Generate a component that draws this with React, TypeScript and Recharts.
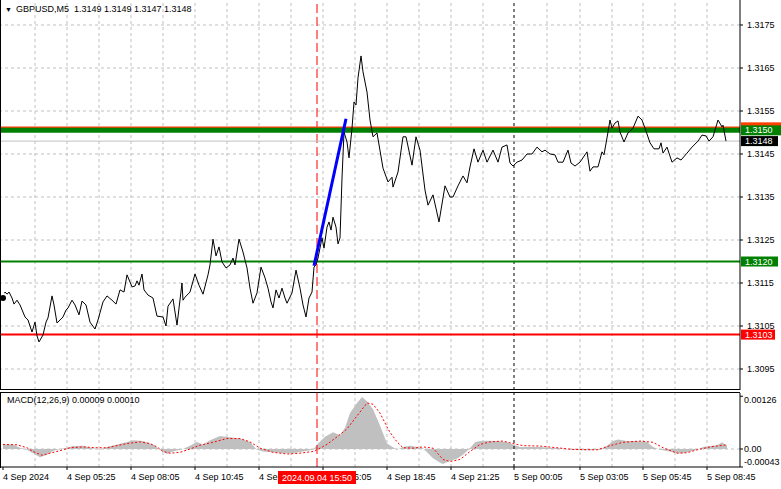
import React from "react";
import {
  ComposedChart,
  LineChart,
  Line,
  Area,
  XAxis,
  YAxis,
  ReferenceLine,
} from "recharts";

const FONT = "'Liberation Sans', Arial, sans-serif";

// position of each close, counted in 5-minute bars from the left edge of the chart
const priceBars = [
  1.5, 2.5, 3.5, 4.5, 6, 7, 8.5, 10, 12.5, 14,
  16, 17.5, 18.5, 19.5, 21.5, 23, 24, 26, 27, 28.5,
  30, 31.5, 33, 34, 36, 37.5, 39.5, 41, 43, 45,
  47.5, 49, 51.5, 53.5, 56, 58, 60, 62, 63.5, 66,
  67.5, 68.5, 69.5, 71, 72, 74, 76.5, 78.5, 81.5, 83,
  84, 86.5, 88.5, 91, 91.5, 92.5, 95, 97.5, 99.5, 101.5,
  104, 105, 106.5, 108, 109.5, 111, 113, 115, 116.5, 117.5,
  119.5, 121.5, 123.5, 125, 126.5, 128.5, 130.5, 132.5, 134, 135.5,
  136.5, 138, 139.5, 141, 142.5, 143.5, 146, 148, 150, 151.5,
  153, 154.5, 156, 157, 158, 159, 161, 162, 163.5, 164.5,
  165.5, 166.5, 168, 169, 170, 171, 172, 173.5, 174.5, 176,
  177, 178, 179, 180.5, 181.5, 183.5, 185, 186.5, 188.5, 191.5,
  194, 196, 196.5, 199, 201.5, 203, 206, 208, 210, 212.5,
  214, 216.5, 219.5, 222.5, 225, 226.5, 229, 231.5, 233.5, 235,
  237, 239, 241.5, 243.5, 246.5, 249, 251, 253.5, 255, 256.5,
  258.5, 261, 263.5, 266, 268.5, 271, 272.5, 275, 277.5, 279,
  281.5, 284, 285.5, 287.5, 290, 293.5, 295, 296.5, 299, 301,
  302, 304, 305, 306, 307.5, 309, 310, 312, 314, 316.5,
  319, 321, 322.5, 325, 327, 329.5, 330.5, 331.5, 333.5, 336,
  338.5, 340.5, 343.5, 346, 349, 351, 353, 354.5, 356.5, 359,
  361, 361.5, 363,
];

const closes = [
  1.31115, 1.31129, 1.31124, 1.31129, 1.31115, 1.31101, 1.3111, 1.31099, 1.31071, 1.31064,
  1.31036, 1.31059, 1.31027, 1.31013, 1.31029, 1.31059, 1.31069, 1.3112, 1.31099, 1.31057,
  1.31064, 1.31071, 1.31087, 1.31092, 1.3111, 1.31099, 1.31076, 1.31108, 1.31099, 1.31059,
  1.31043, 1.31064, 1.31106, 1.3112, 1.3111, 1.31101, 1.31134, 1.31129, 1.31169, 1.31141,
  1.31143, 1.31155, 1.31145, 1.31171, 1.31134, 1.31122, 1.31115, 1.31073, 1.31071, 1.3105,
  1.31096, 1.31113, 1.31052, 1.3115, 1.3111, 1.31117, 1.31129, 1.31171, 1.31145, 1.31124,
  1.31169, 1.31192, 1.31252, 1.31213, 1.31234, 1.31199, 1.31185, 1.31192, 1.31208, 1.31192,
  1.31252, 1.31222, 1.31185, 1.31138, 1.31103, 1.31127, 1.31187, 1.31162, 1.31138, 1.31106,
  1.31092, 1.31134, 1.31115, 1.31138, 1.31115, 1.31103, 1.31127, 1.3118, 1.31138, 1.31099,
  1.31071, 1.31115, 1.31129, 1.31187, 1.31192, 1.31208, 1.31255, 1.31231, 1.3128, 1.31292,
  1.31273, 1.31303, 1.3128, 1.31241, 1.31255, 1.31394, 1.31501, 1.31478, 1.31441, 1.3151,
  1.31571, 1.31564, 1.31627, 1.31678, 1.31641, 1.31594, 1.31529, 1.3149, 1.31499, 1.31417,
  1.31385, 1.31396, 1.31373, 1.31408, 1.3149, 1.3149, 1.31424, 1.3149, 1.31459, 1.31366,
  1.31331, 1.31355, 1.31292, 1.31376, 1.3135, 1.3135, 1.31376, 1.31399, 1.31383, 1.3142,
  1.31462, 1.31431, 1.31459, 1.31431, 1.31459, 1.31431, 1.31466, 1.31471, 1.31429, 1.31422,
  1.31431, 1.31436, 1.3145, 1.3145, 1.31466, 1.31455, 1.31459, 1.3145, 1.31448, 1.31431,
  1.31431, 1.31459, 1.31429, 1.31422, 1.31431, 1.31455, 1.3141, 1.3142, 1.3142, 1.31455,
  1.31448, 1.31501, 1.31529, 1.3151, 1.31522, 1.31527, 1.31501, 1.31478, 1.31499, 1.3151,
  1.31538, 1.31529, 1.3151, 1.31476, 1.31462, 1.31462, 1.31476, 1.31452, 1.31466, 1.31431,
  1.31441, 1.31436, 1.31452, 1.31466, 1.3148, 1.31494, 1.31492, 1.3148, 1.3149, 1.31529,
  1.31513, 1.31517, 1.3148,
];

// MACD(12,26,9) main line, drawn as a histogram
const macdBars = [
  1.5, 3.5, 6.5, 10, 13.5, 16.5, 20, 23.5, 26.5, 30,
  33.5, 36.5, 41.5, 46.5, 50, 53.5, 58.5, 63.5, 66.5, 71.5,
  76.5, 80, 83.5, 86.5, 91.5, 95, 98.5, 101.5, 105, 110,
  115, 120, 125, 128.5, 131.5, 136.5, 141.5, 146.5, 151.5, 156.5,
  159, 162.5, 166.5, 170, 172.5, 175, 178.5, 181, 183.5, 186.5,
  190, 193.5, 198.5, 201.5, 205, 208.5, 211.5, 214, 216.5, 220,
  221.5, 225, 228.5, 231.5, 235, 237.5, 240, 243.5, 248.5, 253.5,
  256.5, 260, 265, 270, 275, 280, 285, 290, 295, 300,
  303.5, 306.5, 309, 313.5, 318.5, 323.5, 326.5, 330, 335, 338.5,
  341.5, 345, 348.5, 351.5, 355, 358.5, 361, 362.5, 363.5,
];

const macdValues = [
  0.00011, 0.00011, 0.00011, 0.00003, -0.00002, -0.0001, -0.0002, -0.00014, -0.00005, 0,
  0.00003, 0.00007, 0.00008, 0.00002, -0.00002, 0.00005, 0.00011, 0.00017, 0.00021, 0.00019,
  0.00011, -0.00002, -0.00012, -0.00006, 0, 0.00008, 0.00017, 0.00011, 0.00021, 0.00031,
  0.00028, 0.00025, 0.00017, -0.00002, -0.00006, -0.00008, -0.0001, -0.0001, -0.00006, -0.00002,
  0.00013, 0.00029, 0.0004, 0.00033, 0.00051, 0.00086, 0.0011, 0.00124, 0.00114, 0.00095,
  0.00056, 0.00013, -0.00002, 0.00005, 0.00008, 0.00005, 0.00002, -0.0001, -0.00022, -0.00033,
  -0.00036, -0.00028, -0.00023, -0.00014, 0.00002, 0.00016, 0.00019, 0.0002, 0.00019, 0.00016,
  0.00011, 0.00005, 0.00005, 0.00005, 0.00003, 0.00002, -0.00002, -0.00003, -0.00003, -0.00002,
  0.00008, 0.00019, 0.00023, 0.00019, 0.00019, 0.00017, 0.00005, -0.00002, -0.00006, -0.0001,
  -0.0001, -0.00006, -0.00002, 0.00005, 0.00007, 0.00009, 0.00016, 0.00011, 0.00009,
];

// MACD signal line
const signalBars = [
  1.5, 8.5, 13.5, 16.5, 21, 25, 30, 35, 41.5, 48.5,
  53.5, 58.5, 63.5, 70, 75, 78.5, 81.5, 85, 90, 95,
  100, 106.5, 113.5, 120, 125, 130, 136.5, 143.5, 150, 156.5,
  160, 163.5, 168.5, 173.5, 178.5, 183.5, 186.5, 190, 194, 195,
  198.5, 201.5, 206.5, 211.5, 216.5, 221.5, 225, 230, 235, 240,
  245, 251.5, 256.5, 261.5, 270, 278.5, 286.5, 298.5, 305, 311.5,
  320, 326.5, 331.5, 338.5, 343.5, 348.5, 355, 361.5, 363.5,
];

const signalValues = [
  0.00011, 0.0001, 0.00003, -0.00006, -0.00015, -0.0001, -0.00004, 0.00003, 0.00005, 0.00003,
  0.00003, 0.00008, 0.00013, 0.00017, 0.00013, 0.00005, -0.00006, -0.0001, -0.00008, 0,
  0.00009, 0.00016, 0.00025, 0.00025, 0.00017, 0.00002, -0.00008, -0.00012, -0.0001, -0.00006,
  0.00002, 0.00011, 0.00029, 0.00048, 0.00079, 0.0011, 0.00107, 0.00086, 0.00048, 0.0004,
  0.00017, 0.00003, 0.00002, 0.00005, 0.00002, -0.00025, -0.0003, -0.00025, -0.00006, 0.00011,
  0.00017, 0.00019, 0.00013, 0.00008, 0.00007, 0.00003, -0.00001, -0.00002, 0.00008, 0.00016,
  0.00019, 0.00016, 0.00003, -0.0001, -0.00009, -0.00002, 0.00005, 0.00009, 0.0001,
];

const priceTicks = [1.3095, 1.3105, 1.3115, 1.3125, 1.3135, 1.3145, 1.3155, 1.3165, 1.3175];
const macdTicks = [-0.00043, 0, 0.00126];
const macdTickLabels = ["-0.00043", "0.00", "0.00126"];

const timeTickBars = [1.5, 33.5, 65.5, 97.5, 129.5, 161.5, 193.5, 225.5, 257, 290, 321.5, 353.5];
const timeTickLabels = [
  "4 Sep 2024", "4 Sep 05:25", "4 Sep 08:05", "4 Sep 10:45", "4 Sep 13:25", "4 Sep 16:05",
  "4 Sep 18:45", "4 Sep 21:25", "5 Sep 00:05", "5 Sep 03:05", "5 Sep 05:45", "5 Sep 08:45",
];
const gridMidBars = [17.5, 49.5, 81.5, 113.5, 145.5, 177.5, 209.5, 241.5, 273.5, 306, 337.5];
const daySeparatorBar = 257;
const crosshairBar = 158.5;
const crosshairLabel = "2024.09.04 15:50";

const resistanceRed = 1.31512;
const resistance = 1.31505;
const bidPrice = 1.3148;
const support = 1.312;
const lowLevel = 1.3103;
const trendStart = { bar: 157, price: 1.3119 };
const trendEnd = { bar: 173, price: 1.31532 };

const headerText = "GBPUSD,M5  1.3149 1.3149 1.3147 1.3148";
const macdHeader = "MACD(12,26,9) 0.00009 0.00010";

const priceData = priceBars.map((bar, i) => ({ bar, close: closes[i] }));
const macdData = macdBars.map((bar, i) => ({ bar, value: macdValues[i] }));
const signalData = signalBars.map((bar, i) => ({ bar, value: signalValues[i] }));
const gridBars = [...timeTickBars.slice(1).filter((b) => b !== daySeparatorBar), ...gridMidBars];

const PRICE_DOMAIN = [1.309012, 1.318081];
const MACD_DOMAIN = [-0.00043, 0.001338];

const PriceTick = ({ x, y, payload }: any) => (
  <text x={x} y={y} dy={3} fontSize={9} fontFamily={FONT} fill="#000">
    {payload.value.toFixed(4)}
  </text>
);

const MacdTick = ({ x, y, index }: any) => (
  <text x={x} y={y} dy={index === 2 ? 7 : index === 0 ? -2 : 3} fontSize={9} fontFamily={FONT} fill="#000">
    {macdTickLabels[index]}
  </text>
);

const TimeTick = ({ x, y, index }: any) => (
  <text x={x} y={y} dy={8} fontSize={9} fontFamily={FONT} fill="#000">
    {timeTickLabels[index]}
  </text>
);

const priceTag = (text: string, bg: string, width = 37) => (props: any) => {
  const vb = props.viewBox;
  const x = vb.x + vb.width + 1;
  return (
    <g>
      <rect x={x} y={vb.y - 5} width={width} height={10} fill={bg} />
      {text ? (
        <text x={x + 4} y={vb.y} dy={3} fontSize={9} fontFamily={FONT} fill="#fff">
          {text}
        </text>
      ) : null}
    </g>
  );
};

const timeTag = (props: any) => {
  const vb = props.viewBox;
  return (
    <g>
      <rect x={vb.x - 39} y={vb.y + vb.height + 4} width={78} height={13} fill="#ff0000" />
      <text x={vb.x} y={vb.y + vb.height + 14} textAnchor="middle" fontSize={9} fontFamily={FONT} fill="#fff">
        {crosshairLabel}
      </text>
    </g>
  );
};

export default function App() {
  return (
    <div style={{ position: "absolute", left: 0, top: 0, width: 781, height: 489, background: "#fff", overflow: "hidden" }}>
      <div style={{ position: "absolute", left: 0, top: 0 }}>
        <LineChart width={781} height={390} data={priceData} margin={{ top: 0, right: 0, bottom: 0, left: 0 }}>
          <XAxis dataKey="bar" type="number" domain={[0, 370]} hide allowDataOverflow />
          <YAxis
            orientation="right"
            width={41}
            domain={PRICE_DOMAIN}
            ticks={priceTicks}
            tick={PriceTick}
            tickSize={3}
            tickMargin={4}
            axisLine={{ stroke: "#000" }}
            tickLine={{ stroke: "#000" }}
            interval={0}
            allowDataOverflow
          />
          {priceTicks.map((p) => (
            <ReferenceLine key={"h" + p} y={p} stroke="#c0c0c0" strokeDasharray="3 3" />
          ))}
          {gridBars.map((b) => (
            <ReferenceLine key={"v" + b} x={b} stroke="#c0c0c0" strokeDasharray="3 3" />
          ))}
          <ReferenceLine x={daySeparatorBar} stroke="#000" strokeDasharray="3 3" />
          <ReferenceLine x={crosshairBar} stroke="#ff0000" strokeDasharray="9 4" />
          <ReferenceLine y={bidPrice} stroke="#c0c0c0" label={priceTag("1.3148", "#000")} />
          <ReferenceLine y={resistanceRed} stroke="#ff4000" strokeWidth={1.5} label={priceTag("", "#ff4000", 40)} />
          <ReferenceLine y={resistance} stroke="#008000" strokeWidth={5} label={priceTag("1.3150", "#008000", 40)} />
          <ReferenceLine y={support} stroke="#008000" strokeWidth={2} label={priceTag("1.3120", "#008000")} />
          <ReferenceLine y={lowLevel} stroke="#ff0000" strokeWidth={2} label={priceTag("1.3103", "#ff0000", 34)} />
          <Line dataKey="close" type="linear" stroke="#000" strokeWidth={1} dot={false} isAnimationActive={false} />
          <ReferenceLine
            segment={[
              { x: trendStart.bar, y: trendStart.price },
              { x: trendEnd.bar, y: trendEnd.price },
            ]}
            stroke="#0000ff"
            strokeWidth={3}
          />
        </LineChart>
      </div>
      <div style={{ position: "absolute", left: 0, top: 0, width: 740, height: 390, borderLeft: "1px solid #000", borderBottom: "1px solid #000", boxSizing: "border-box", pointerEvents: "none" }} />
      <div style={{ position: "absolute", left: 0, top: 393 }}>
        <ComposedChart width={781} height={96} margin={{ top: 0, right: 0, bottom: 0, left: 0 }}>
          <XAxis
            dataKey="bar"
            type="number"
            domain={[0, 370]}
            ticks={timeTickBars}
            tick={TimeTick}
            interval={0}
            height={22}
            tickSize={3}
            tickMargin={2}
            axisLine={{ stroke: "#000" }}
            tickLine={{ stroke: "#000" }}
            allowDataOverflow
          />
          <YAxis
            orientation="right"
            width={41}
            domain={MACD_DOMAIN}
            ticks={macdTicks}
            tick={MacdTick}
            tickSize={3}
            tickMargin={1}
            axisLine={{ stroke: "#000" }}
            tickLine={{ stroke: "#000" }}
            interval={0}
            allowDataOverflow
          />
          {gridBars.map((b) => (
            <ReferenceLine key={"m" + b} x={b} stroke="#c0c0c0" strokeDasharray="3 3" />
          ))}
          <ReferenceLine y={0} stroke="#c0c0c0" strokeDasharray="3 3" />
          <ReferenceLine x={daySeparatorBar} stroke="#000" strokeDasharray="3 3" />
          <Area
            data={macdData}
            dataKey="value"
            type="linear"
            baseValue={0}
            stroke="none"
            fill="#c0c0c0"
            fillOpacity={1}
            isAnimationActive={false}
          />
          <Line
            data={signalData}
            dataKey="value"
            type="linear"
            stroke="#ff0000"
            strokeDasharray="2 2"
            strokeWidth={1}
            dot={false}
            isAnimationActive={false}
          />
          <ReferenceLine x={crosshairBar} stroke="#ff0000" strokeDasharray="9 4" />
        </ComposedChart>
      </div>
      {/* crosshair time tag, drawn on top of the time axis labels */}
      <div style={{ position: "absolute", left: 0, top: 393, pointerEvents: "none" }}>
        <ComposedChart width={781} height={96} margin={{ top: 0, right: 41, bottom: 22, left: 0 }}>
          <XAxis type="number" dataKey="bar" domain={[0, 370]} hide allowDataOverflow />
          <YAxis domain={MACD_DOMAIN} hide allowDataOverflow />
          <ReferenceLine x={crosshairBar} stroke="none" label={timeTag} />
        </ComposedChart>
      </div>
      <div style={{ position: "absolute", left: 0, top: 392, width: 740, height: 1, background: "#000" }} />
      <div style={{ position: "absolute", left: 0, top: 392, width: 1, height: 76, background: "#000" }} />
      <div style={{ position: "absolute", left: 5, top: 3, fontFamily: FONT, fontSize: 9, lineHeight: "12px", whiteSpace: "pre", color: "#000" }}>
        <span style={{ fontSize: 7, marginRight: 4 }}>▼</span>
        {headerText}
      </div>
      <div style={{ position: "absolute", left: 7, top: 394, fontFamily: FONT, fontSize: 9, lineHeight: "12px", whiteSpace: "pre", color: "#000" }}>
        {macdHeader}
      </div>
    </div>
  );
}
